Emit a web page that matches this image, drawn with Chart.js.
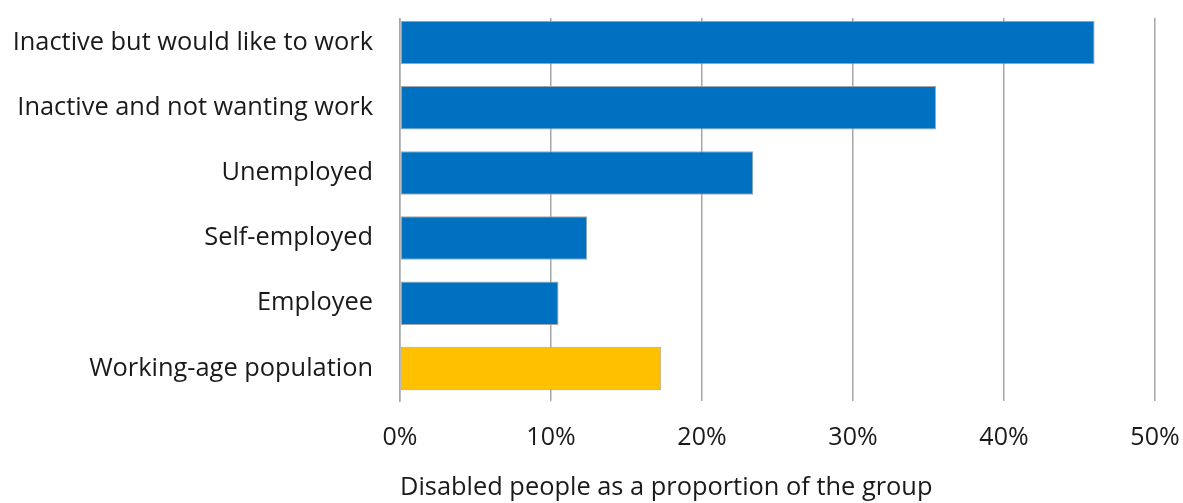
<!DOCTYPE html>
<html>
<head>
<meta charset="utf-8">
<script src="https://cdn.jsdelivr.net/npm/chart.js@4"></script>
<style>
  html, body { margin: 0; padding: 0; background: #fff; }
  #wrap { width: 1183px; height: 503px; }
</style>
</head>
<body>
<div id="wrap"><canvas id="c" width="1183" height="503"></canvas></div>
<script>
// Disabled people as a share of each labour-market group
const categories = [
  'Inactive but would like to work',
  'Inactive and not wanting work',
  'Unemployed',
  'Self-employed',
  'Employee',
  'Working-age population'
];
const shares = [46.0, 35.5, 23.4, 12.4, 10.5, 17.3];
const barColours = ['#0070C0', '#0070C0', '#0070C0', '#0070C0', '#0070C0', '#FFC000'];
const axisTitle = 'Disabled people as a proportion of the group';

const FONT = "'Open Sans', 'Noto Sans', sans-serif";
const TEXT = '#1a1a1a';
const GRID = '#a6a6a6';

// gridlines and axis line start a little below the top of the plot band
const trimTop = {
  id: 'trimTop',
  beforeDatasetsDraw(chart) {
    const a = chart.chartArea, ctx = chart.ctx;
    ctx.save();
    ctx.fillStyle = '#fff';
    ctx.fillRect(a.left - 3, a.top - 2, a.right - a.left + 6, 10);
    ctx.restore();
  }
};

new Chart(document.getElementById('c'), {
  type: 'bar',
  data: {
    labels: categories,
    datasets: [{
      data: shares,
      backgroundColor: barColours,
      borderColor: '#a6a6a6',
      borderWidth: 1,
      borderSkipped: false,
      categoryPercentage: 1,
      barPercentage: 0.667
    }]
  },
  options: {
    indexAxis: 'y',
    responsive: false,
    animation: false,
    devicePixelRatio: 1,
    layout: { padding: { top: 10, right: 28, left: 0, bottom: 0 } },
    plugins: { legend: { display: false }, tooltip: { enabled: false } },
    scales: {
      x: {
        min: 0, max: 50,
        ticks: {
          stepSize: 10,
          callback: v => v + '%',
          color: TEXT,
          font: { family: FONT, size: 25 },
          padding: 22,
          maxRotation: 0
        },
        grid: { color: GRID, lineWidth: 1.5, drawTicks: false },
        border: { display: false },
        title: {
          display: true,
          text: axisTitle,
          align: 'start',
          color: TEXT,
          font: { family: FONT, size: 25.4 },
          padding: { top: 0, bottom: 0 }
        },
        afterFit(scale) {
          scale.height = 102;
          scale.paddingLeft = 0;
          scale.paddingRight = 0;
        }
      },
      y: {
        ticks: {
          color: TEXT,
          font: { family: FONT, size: 25.4 },
          padding: 27
        },
        grid: { display: false, drawTicks: false },
        border: { display: true, color: GRID, width: 1.5 },
        afterFit(scale) {
          scale.width = 400;
          scale.paddingTop = 0;
          scale.paddingBottom = 0;
        }
      }
    }
  },
  plugins: [trimTop]
});
</script>
</body>
</html>
